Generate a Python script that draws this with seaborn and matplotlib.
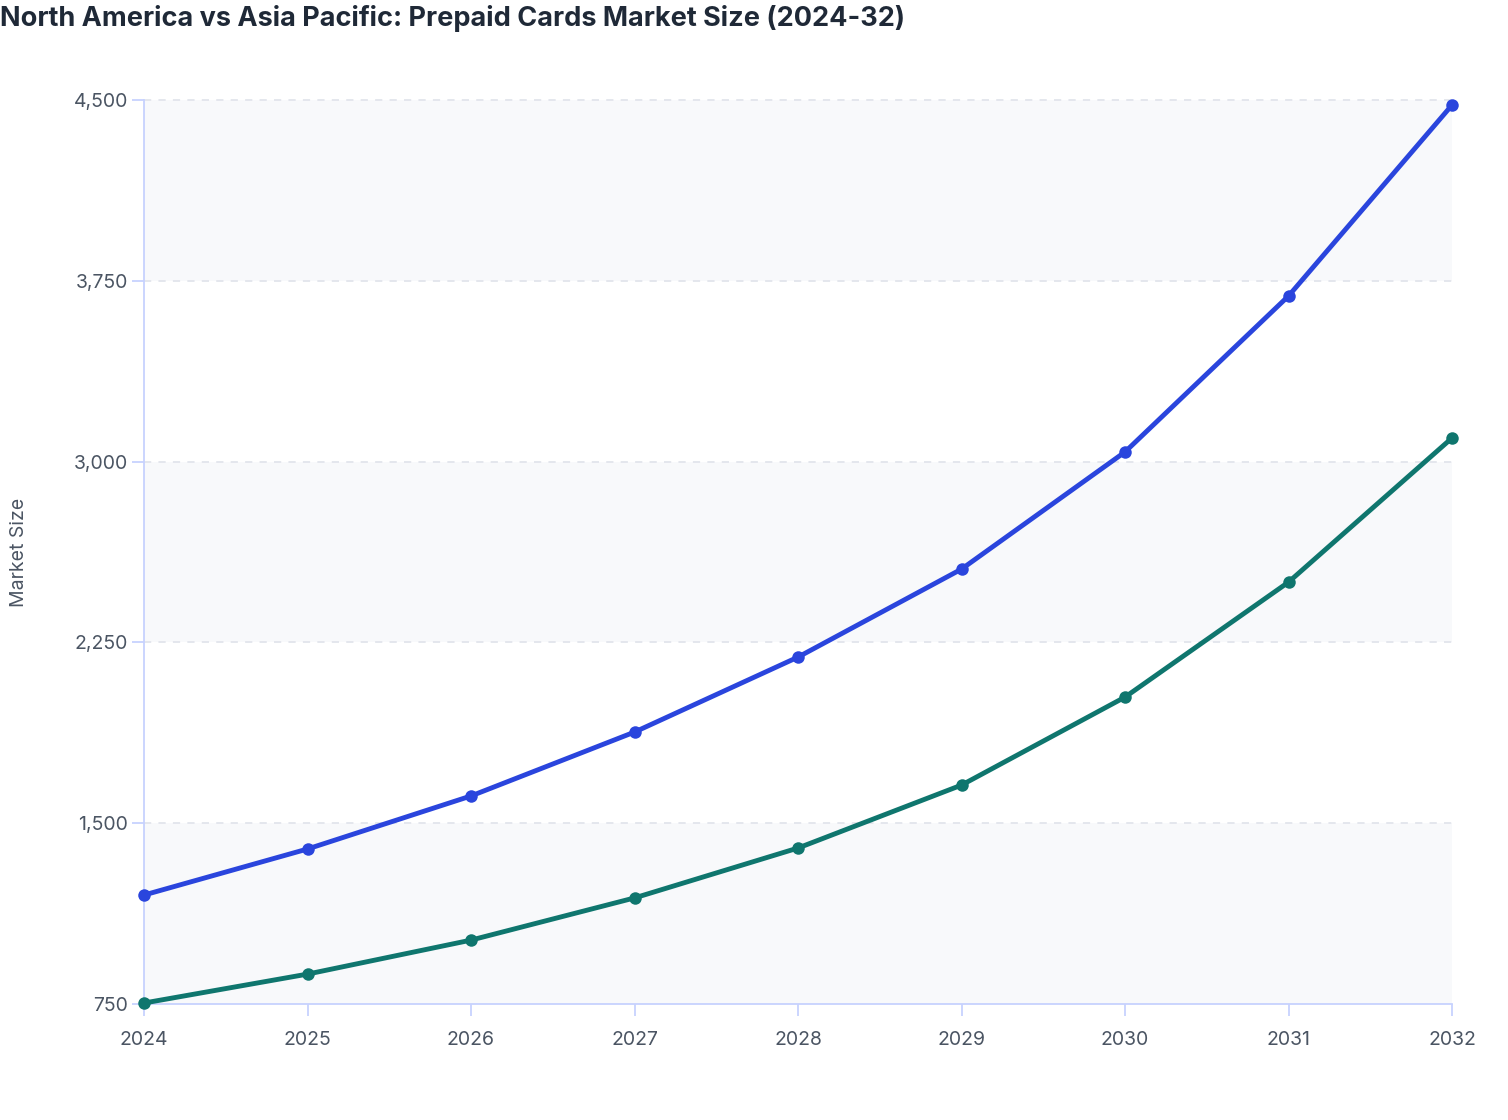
import pandas as pd
import seaborn as sns
import matplotlib.pyplot as plt
from matplotlib.ticker import FuncFormatter

years = [2024, 2025, 2026, 2027, 2028, 2029, 2030, 2031, 2032]
north_america = [1202, 1393, 1613, 1878, 2189, 2554, 3040, 3687, 4479]
asia_pacific = [754, 874, 1015, 1190, 1397, 1658, 2023, 2500, 3098]
y_ticks = [750, 1500, 2250, 3000, 3750, 4500]

df = pd.DataFrame({
    'year': years * 2,
    'size': north_america + asia_pacific,
    'region': ['North America'] * len(years) + ['Asia Pacific'] * len(years),
})

sns.set_style('white')
plt.rcParams['font.family'] = ['Inter', 'DejaVu Sans']

text_col = '#4b5563'
axis_col = '#c7d2fe'

fig = plt.figure(figsize=(15.08, 11.2), dpi=100)
ax = fig.add_axes([144 / 1508, 1 - 1004 / 1120, (1452 - 144) / 1508, (1004 - 100) / 1120])

# alternating background bands
for i in range(len(y_ticks) - 1):
    if (len(y_ticks) - 2 - i) % 2 == 0:
        ax.axhspan(y_ticks[i], y_ticks[i + 1], color='#f8f9fb', zorder=0, lw=0)

for t in y_ticks[1:]:
    ax.axhline(t, color='#e2e5ec', lw=1.3, ls=(0, (4, 4)), zorder=1)

sns.lineplot(data=df, x='year', y='size', hue='region',
             palette={'North America': '#2a45dd', 'Asia Pacific': '#0f766e'},
             marker='o', markersize=9, markeredgewidth=0, linewidth=3.5,
             legend=False, ax=ax, zorder=3)
for ln in ax.lines:
    ln.set_clip_on(False)

ax.set_xlim(years[0], years[-1])
ax.set_ylim(y_ticks[0], y_ticks[-1])
ax.set_xticks(years)
ax.set_yticks(y_ticks)
ax.yaxis.set_major_formatter(FuncFormatter(lambda v, p: f'{int(v):,}'))

for s in ['top', 'right']:
    ax.spines[s].set_visible(False)
for s in ['left', 'bottom']:
    ax.spines[s].set_color(axis_col)
    ax.spines[s].set_linewidth(1.3)

ax.tick_params(axis='both', colors=axis_col, labelcolor=text_col, labelsize=14,
               length=8.5, width=1.3, left=True, bottom=True)
ax.tick_params(axis='x', pad=11)
ax.tick_params(axis='y', pad=3)

ax.set_xlabel('')
ax.set_ylabel('Market Size', fontsize=14, color=text_col)
ax.yaxis.set_label_coords(-0.089, 0.5)

fig.text(0.0, 1 - 18 / 1120, 'North America vs Asia Pacific: Prepaid Cards Market Size (2024-32)',
         fontsize=19.5, fontweight='bold', color='#1f2937', ha='left', va='center')

fig.savefig('out.png', dpi=100, facecolor='white')
